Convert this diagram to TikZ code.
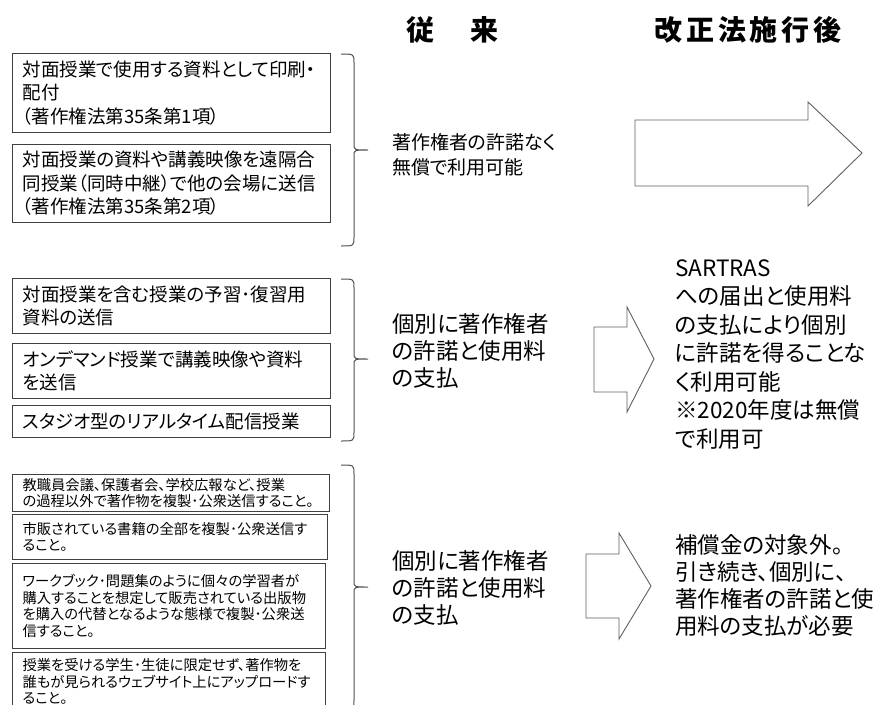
\documentclass[tikz,border=0pt]{standalone}
\usepackage{fontspec}
\setmainfont{Noto Sans CJK JP}[RawFeature={+palt}]
\definecolor{boxc}{HTML}{404040}
\definecolor{linec}{HTML}{505050}
\definecolor{arrc}{HTML}{606060}
\newcommand\ftTitle{\fontsize{28}{32}\selectfont\bfseries}
\newcommand\ftBoxA{\fontsize{18.5}{23.5}\selectfont}
\newcommand\ftBoxB{\fontsize{14.3}{16.5}\selectfont}
\newcommand\ftMidA{\fontsize{19}{25}\selectfont}
\newcommand\ftMidB{\fontsize{22.5}{27}\selectfont}
\newcommand\ftRightB{\fontsize{22.5}{28.5}\selectfont}
\newcommand\chcell[1]{\makebox[31.7pt]{#1}}
\begin{document}
\begin{tikzpicture}[x=1pt,y=-1pt,
  box/.style={draw=boxc, line width=1.1pt, fill=white, anchor=north west, inner xsep=10pt, inner ysep=0pt, align=left},
  boxA/.style={box, font=\ftBoxA, text width=298pt},
  boxB/.style={box, font=\ftBoxB},
  bracepath/.style={draw=linec, line width=1pt},
  bigarrow/.style={draw=arrc, line width=0.9pt, fill=white, line join=miter},
  midA/.style={anchor=west, align=left, inner sep=0pt, font=\ftMidA},
  midB/.style={anchor=west, align=left, inner sep=0pt, font=\ftMidB},
  rightB/.style={anchor=west, align=left, inner sep=0pt, font=\ftRightB},
  rightC/.style={anchor=west, align=left, inner sep=0pt, font=\ftMidB},
  titletxt/.style={inner sep=0pt, font=\ftTitle}]
\useasboundingbox (0,0) rectangle (888,704);
\clip (0,0) rectangle (888,704);
\fill[white] (0,0) rectangle (888,704);

% titles
\node[titletxt] (t1) at (452.5,30) {\chcell{従}\chcell{}\chcell{来}};
\node[titletxt] (t2) at (748,30) {\chcell{改}\chcell{正}\chcell{法}\chcell{施}\chcell{行}\chcell{後}};

% group 1 boxes
\node[boxA, minimum height=79pt] (b1) at (12,53) {対面授業で使用する資料として印刷・\\配付\\（著作権法第35条第1項）};
\node[boxA, minimum height=78pt] (b2) at (12,144) {対面授業の資料や講義映像を遠隔合\\同授業（同時中継）で他の会場に送信\\（著作権法第35条第2項）};

% group 2 boxes
\node[boxA, minimum height=55pt] (b3) at (12,278) {対面授業を含む授業の予習･復習用\\資料の送信};
\node[boxA, minimum height=55pt] (b4) at (12,343) {オンデマンド授業で講義映像や資料\\を送信};
\node[boxA, minimum height=32pt] (b5) at (12,405) {スタジオ型のリアルタイム配信授業};

% group 3 boxes
\node[boxB, text width=297pt, minimum height=37pt] (b6) at (12,474) {教職員会議、保護者会、学校広報など、授業\\の過程以外で著作物を複製･公衆送信すること。};
\node[boxB, text width=295pt, minimum height=45pt] (b7) at (12,514) {市販されている書籍の全部を複製･公衆送信す\\ること。};
\node[boxB, text width=293pt, minimum height=85pt] (b8) at (12,563) {ワークブック･問題集のように個々の学習者が\\購入することを想定して販売されている出版物\\を購入の代替となるような態様で複製･公衆送\\信すること。};
\node[boxB, text width=293pt, minimum height=58pt] (b9) at (12,652) {授業を受ける学生･生徒に限定せず、著作物を\\誰もが見られるウェブサイト上にアップロードす\\ること。};

% braces
\foreach \t/\m/\b in {54/150/246, 279/359/441, 465/587/709} {
  \draw[bracepath] (341,\t) .. controls (354,\t) .. (354,\t+9) -- (354,\m-6)
     .. controls (354,\m) .. (368,\m) .. controls (354,\m) .. (354,\m+6)
     -- (354,\b-9) .. controls (354,\b) .. (341,\b);
}

% middle texts
\node[midA] (m1) at (392,154.5) {著作権者の許諾なく\\無償で利用可能};
\node[midB] (m2) at (392,351) {個別に著作権者\\の許諾と使用料\\の支払};
\node[midB] (m3) at (392,588) {個別に著作権者\\の許諾と使用料\\の支払};

% arrows
\draw[bigarrow] (635,120) -- (808,120) -- (808,102) -- (862,153) -- (808,206) -- (808,186) -- (635,186) -- cycle;
\draw[bigarrow] (594,327) -- (627,327) -- (627,307) -- (654,359) -- (627,412) -- (627,392) -- (594,392) -- cycle;
\draw[bigarrow] (586,554) -- (619,554) -- (619,533) -- (651,586) -- (619,639) -- (619,618) -- (586,618) -- cycle;

% right texts
\node[rightB] (r2) at (675,354.5) {SARTRAS\\への届出と使用料\\の支払により個別\\に許諾を得ることな\\く利用可能\\※2020年度は無償\\で利用可};
\node[rightC] (r3) at (675,585.5) {補償金の対象外。\\引き続き、個別に、\\著作権者の許諾と使\\用料の支払が必要};
\end{tikzpicture}
\end{document}
